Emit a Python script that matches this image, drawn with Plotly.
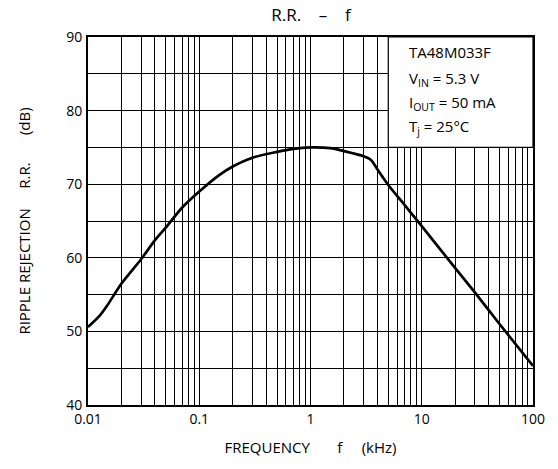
import plotly.graph_objects as go

# Data (frequency in kHz, ripple rejection in dB)
freq_khz = [0.01, 0.0125, 0.015, 0.02, 0.03, 0.04, 0.05, 0.07, 0.1, 0.15, 0.2, 0.3,
            0.5, 0.7, 1.0, 1.5, 2.0, 3.0, 3.5, 4.0, 5.0, 7.0, 10, 20, 30, 50, 100]
rr_db = [50.6, 52.0, 53.6, 56.5, 59.8, 62.4, 64.1, 66.8, 69.0, 71.2, 72.4, 73.6,
         74.4, 74.8, 75.0, 74.9, 74.5, 73.8, 73.3, 72.0, 69.9, 67.2, 64.3, 58.6, 55.3, 51.0, 45.3]

decades = [0.01, 0.1, 1, 10, 100]
decade_labels = ["0.01", "0.1", "1", "10", "100"]
y_major = [40, 50, 60, 70, 80, 90]
y_grid = [40, 45, 50, 55, 60, 65, 70, 75, 80, 85, 90]

cond_lines = ["TA48M033F", "V<sub>IN</sub> = 5.3 V", "I<sub>OUT</sub> = 50 mA", "T<sub>j</sub> = 25°C"]
cond_y = [87.95, 84.35, 81.1, 77.8]

FONT = "Open Sans"
NB = "\u00a0"

# grid at every 1..9 multiple of each decade; labels only on the decades
xvals, xtext = [], []
for d, lab in zip(decades, decade_labels):
    for m in range(1, 10):
        v = d * m
        if v > 100 + 1e-9:
            break
        xvals.append(v)
        xtext.append(lab if m == 1 else "")

ytext = [str(v) if v in y_major else "" for v in y_grid]

fig = go.Figure()
fig.add_trace(go.Scatter(x=freq_khz, y=rr_db, mode="lines",
                         line=dict(color="black", width=2.7, shape="spline", smoothing=0.8),
                         showlegend=False, hoverinfo="skip"))

# condition box (covers the grid in the upper right)
fig.add_shape(type="rect", xref="x", yref="y", x0=5, x1=100, y0=75, y1=90,
              fillcolor="white", line=dict(color="black", width=1.2), layer="above")

for txt, yv in zip(cond_lines, cond_y):
    fig.add_annotation(x=0.867, y=yv, xref="x", yref="y", text=txt, showarrow=False,
                       xanchor="left", yanchor="middle",
                       font=dict(family=FONT, size=15, color="black"))

fig.update_layout(
    width=558, height=469,
    margin=dict(l=88, r=25, t=37, b=64),
    paper_bgcolor="white", plot_bgcolor="white",
    font=dict(family=FONT, color="black"),
    title=dict(text="R.R." + NB * 4 + "–" + NB * 4 + "f", x=311 / 558, xanchor="center",
               xref="container", y=1 - 15 / 469, yanchor="middle", yref="container",
               font=dict(family=FONT, size=17, color="black")),
)

fig.update_xaxes(type="log", range=[-2, 2], tickvals=xvals, ticktext=xtext,
                 showgrid=True, gridcolor="black", gridwidth=1,
                 showline=True, linecolor="black", linewidth=2, mirror=True,
                 ticks="", zeroline=False, tickfont=dict(family=FONT, size=14, color="black"),
                 ticklabelstandoff=0,
                 title=dict(text=NB * 3 + "FREQUENCY" + NB * 7 + "f" + NB * 5 + "(kHz)",
                            font=dict(family=FONT, size=15, color="black"), standoff=16))

fig.update_yaxes(range=[40, 90], tickvals=y_grid, ticktext=ytext,
                 showgrid=True, gridcolor="black", gridwidth=1,
                 showline=True, linecolor="black", linewidth=2, mirror=True,
                 ticks="", zeroline=False, tickfont=dict(family=FONT, size=14, color="black"),
                 ticklabelstandoff=1,
                 title=dict(text="RIPPLE REJECTION" + NB * 5 + "R.R." + NB * 7 + "(dB)",
                            font=dict(family=FONT, size=15, color="black"), standoff=32))

fig.write_html("out.html", config={"displayModeBar": False},
               post_script="document.body.style.margin='0';")
